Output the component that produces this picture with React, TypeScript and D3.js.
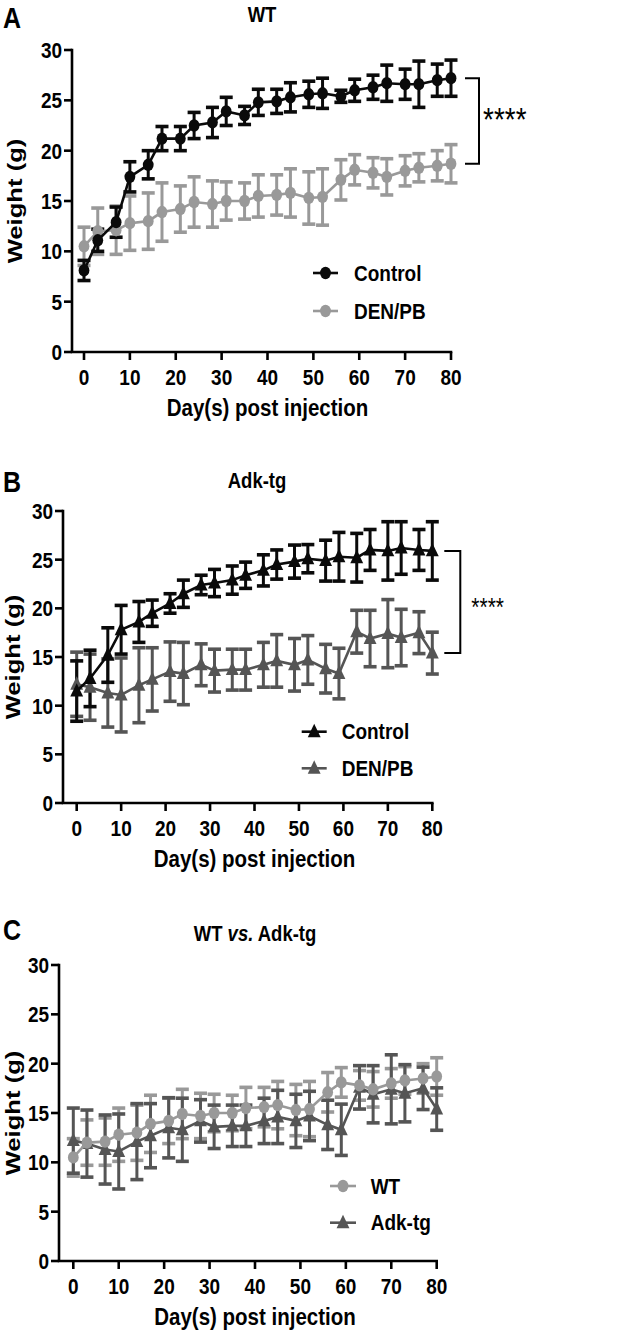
import React from 'react';
import * as d3 from 'd3';

// sampling days (same for every group)
const DAYS = [0, 3, 7, 10, 14, 17, 21, 24, 28, 31, 35, 38, 42, 45, 49, 52, 56, 59, 63, 66, 70, 73, 77, 80];

// WT mice
const WT_CTRL_MEAN = [8.1, 11.1, 12.9, 17.4, 18.6, 21.2, 21.2, 22.5, 22.8, 23.9, 23.5, 24.8, 24.9, 25.3, 25.6, 25.7, 25.4, 26.0, 26.3, 26.7, 26.6, 26.6, 27.0, 27.2];
const WT_CTRL_SEM = [1.0, 1.1, 1.5, 1.5, 1.4, 1.2, 1.2, 1.3, 1.5, 1.4, 0.9, 1.3, 1.2, 1.45, 1.3, 1.5, 0.6, 1.1, 1.2, 1.8, 1.5, 2.3, 1.6, 1.8];
const WT_DEN_MEAN = [10.5, 12.0, 12.1, 12.8, 13.0, 13.9, 14.2, 14.9, 14.7, 15.0, 15.0, 15.5, 15.6, 15.8, 15.3, 15.4, 17.1, 18.1, 17.8, 17.4, 18.0, 18.3, 18.5, 18.7];
const WT_DEN_SEM = [1.9, 2.3, 2.4, 2.7, 2.8, 2.9, 2.3, 2.5, 2.3, 1.9, 1.8, 2.1, 2.0, 2.4, 2.6, 2.8, 2.0, 1.5, 1.5, 1.8, 1.5, 1.4, 1.5, 1.9];

// Adk-tg mice
const ADK_CTRL_MEAN = [11.5, 12.8, 15.2, 17.8, 18.6, 19.5, 20.5, 21.5, 22.4, 22.6, 22.9, 23.4, 23.9, 24.5, 24.8, 25.1, 24.9, 25.3, 25.2, 26.0, 25.9, 26.2, 26.0, 25.9];
const ADK_CTRL_SEM = [3.1, 2.9, 2.8, 2.5, 2.1, 1.35, 1.0, 1.4, 1.0, 1.4, 1.45, 1.35, 1.6, 1.5, 1.7, 1.45, 2.1, 2.5, 2.5, 2.1, 3.0, 2.7, 2.1, 3.0];
const ADK_DEN_MEAN = [12.2, 11.9, 11.3, 11.1, 12.1, 12.7, 13.5, 13.3, 14.2, 13.6, 13.7, 13.7, 14.2, 14.6, 14.2, 14.7, 13.8, 13.3, 17.6, 16.9, 17.4, 17.0, 17.5, 15.4];
const ADK_DEN_SEM = [3.3, 3.4, 3.5, 3.8, 3.85, 3.25, 3.05, 3.2, 2.15, 2.2, 2.1, 2.1, 2.3, 2.7, 2.7, 2.5, 2.5, 2.6, 2.2, 2.9, 3.5, 2.9, 2.15, 2.15];

const Y_TICKS = [0, 5, 10, 15, 20, 25, 30];
const X_TICKS = [0, 10, 20, 30, 40, 50, 60, 70, 80];

const FONT = '"Liberation Sans", Arial, Helvetica, sans-serif';
const SY = 1.2; // the figure is a bit stretched vertically

type Shape = 'circle' | 'triangle';
type Series = { name: string; mean: number[]; sem: number[]; color: string; shape: Shape };

const BLACK = '#0a0a0a';
const LIGHT = '#999999';
const DARK = '#555555';

const wtCtrl: Series = { name: 'Control', mean: WT_CTRL_MEAN, sem: WT_CTRL_SEM, color: BLACK, shape: 'circle' };
const wtDen: Series = { name: 'DEN/PB', mean: WT_DEN_MEAN, sem: WT_DEN_SEM, color: LIGHT, shape: 'circle' };
const adkCtrl: Series = { name: 'Control', mean: ADK_CTRL_MEAN, sem: ADK_CTRL_SEM, color: BLACK, shape: 'triangle' };
const adkDen: Series = { name: 'DEN/PB', mean: ADK_DEN_MEAN, sem: ADK_DEN_SEM, color: DARK, shape: 'triangle' };

type PanelCfg = {
  letter: string;
  letterY: number;
  title: React.ReactNode;
  titleX: number;
  titleY: number;
  x0: number;
  x1: number;
  yTop: number;
  yBottom: number;
  axisX: number;
  yTitleX: number;
  errOrder: Series[];
  lineOrder: Series[];
  legend: { x1: number; x2: number; tx: number; ys: number[]; items: Series[] };
  bracket?: { a: Series; b: Series; h0: number; h1: number; sx: number; size: number; dy: number };
};

const triPath = d3.symbol().type(d3.symbolTriangle).size(72)() as string;

const Marker = ({ x, y, s }: { x: number; y: number; s: Series }) =>
  s.shape === 'circle' ? (
    <ellipse cx={x} cy={y} rx={5.4} ry={6.2} fill={s.color} />
  ) : (
    <path d={triPath} transform={`translate(${x},${y + 1}) scale(1,${SY})`} fill={s.color} />
  );

const Txt = ({ x, y, size, anchor = 'middle', weight = 'bold', children }: any) => (
  <text
    transform={`translate(${x},${y}) scale(1,${SY})`}
    fontSize={size}
    fontWeight={weight}
    textAnchor={anchor}
    fontFamily={FONT}
    fill="#000"
  >
    {children}
  </text>
);

const Panel = ({ cfg }: { cfg: PanelCfg }) => {
  const x = d3.scaleLinear().domain([0, 80]).range([cfg.x0, cfg.x1]);
  const y = d3.scaleLinear().domain([0, 30]).range([cfg.yBottom, cfg.yTop]);
  const line = d3
    .line<number>()
    .x((_, i) => x(DAYS[i]))
    .y((d) => y(d));

  const errBars = (s: Series, key: string) => (
    <g key={key} stroke={s.color} strokeWidth={3}>
      {s.mean.map((m, i) => {
        const cx = x(DAYS[i]);
        const lo = y(m - s.sem[i]);
        const hi = y(m + s.sem[i]);
        return (
          <g key={i}>
            <line x1={cx} x2={cx} y1={lo} y2={hi} />
            <line x1={cx - 6.5} x2={cx + 6.5} y1={hi} y2={hi} strokeWidth={3.6} />
            <line x1={cx - 6.5} x2={cx + 6.5} y1={lo} y2={lo} strokeWidth={3.6} />
          </g>
        );
      })}
    </g>
  );

  const lineAndMarks = (s: Series, key: string) => (
    <g key={key}>
      <path d={line(s.mean) as string} fill="none" stroke={s.color} strokeWidth={2.6} />
      {s.mean.map((m, i) => (
        <Marker key={i} x={x(DAYS[i])} y={y(m)} s={s} />
      ))}
    </g>
  );

  const br = cfg.bracket;
  const last = DAYS.length - 1;

  return (
    <g>
      <Txt x={3} y={cfg.letterY} size={25} anchor="start">
        {cfg.letter}
      </Txt>
      <Txt x={cfg.titleX} y={cfg.titleY} size={18.5}>
        {cfg.title}
      </Txt>

      {/* axes */}
      <g stroke="#000" strokeWidth={2.6} fill="none">
        <line x1={cfg.axisX} x2={cfg.axisX} y1={y(30) - 1.3} y2={y(0)} />
        <line x1={cfg.axisX - 1.3} x2={x(80) + 1.3} y1={y(0)} y2={y(0)} />
        {Y_TICKS.map((t) => (
          <line key={t} x1={cfg.axisX - 8} x2={cfg.axisX} y1={y(t)} y2={y(t)} />
        ))}
        {X_TICKS.map((t) => (
          <line key={t} x1={x(t)} x2={x(t)} y1={y(0)} y2={y(0) + 8} />
        ))}
      </g>
      {Y_TICKS.map((t) => (
        <Txt key={t} x={cfg.axisX - 10} y={y(t) + 8} size={19} anchor="end">
          {t}
        </Txt>
      ))}
      {X_TICKS.map((t) => (
        <Txt key={t} x={x(t)} y={y(0) + 33} size={19}>
          {t}
        </Txt>
      ))}
      <Txt x={(x(0) + x(80)) / 2} y={y(0) + 64} size={20.5}>
        Day(s) post injection
      </Txt>
      <text
        transform={`translate(${cfg.yTitleX},${(y(0) + y(30)) / 2}) rotate(-90) scale(${SY + 0.05},1)`}
        fontSize={20.5}
        fontWeight="bold"
        textAnchor="middle"
        fontFamily={FONT}
      >
        Weight (g)
      </text>

      {/* data */}
      {cfg.errOrder.map((s, k) => errBars(s, 'e' + k))}
      {cfg.lineOrder.map((s, k) => lineAndMarks(s, 'l' + k))}

      {/* legend */}
      {cfg.legend.items.map((s, k) => {
        const ly = cfg.legend.ys[k];
        return (
          <g key={k}>
            <line x1={cfg.legend.x1} x2={cfg.legend.x2} y1={ly} y2={ly} stroke={s.color} strokeWidth={2.6} />
            <Marker x={(cfg.legend.x1 + cfg.legend.x2) / 2} y={ly} s={s} />
            <Txt x={cfg.legend.tx} y={ly + 7.5} size={19} anchor="start">
              {s.name}
            </Txt>
          </g>
        );
      })}

      {/* significance bracket */}
      {br && (
        <g>
          <path
            d={`M${x(80) + br.h0},${y(br.a.mean[last])}H${x(80) + br.h1}V${y(br.b.mean[last])}H${x(80) + br.h0}`}
            fill="none"
            stroke="#000"
            strokeWidth={2}
          />
          <Txt
            x={x(80) + br.sx}
            y={(y(br.a.mean[last]) + y(br.b.mean[last])) / 2 + br.dy}
            size={br.size}
            anchor="start"
            weight="normal"
          >
            ****
          </Txt>
        </g>
      )}
    </g>
  );
};

const panels: PanelCfg[] = [
  {
    letter: 'A',
    letterY: 28,
    title: 'WT',
    titleX: 262,
    titleY: 22,
    x0: 84,
    x1: 451,
    yTop: 50,
    yBottom: 352,
    axisX: 72,
    yTitleX: 22,
    errOrder: [wtDen, wtCtrl],
    lineOrder: [wtDen, wtCtrl],
    legend: { x1: 313, x2: 338, tx: 354, ys: [273, 311], items: [wtCtrl, wtDen] },
    bracket: { a: wtCtrl, b: wtDen, h0: 14, h1: 28, sx: 32, size: 28, dy: 10 },
  },
  {
    letter: 'B',
    letterY: 492,
    title: 'Adk-tg',
    titleX: 257,
    titleY: 488,
    x0: 76.7,
    x1: 432.3,
    yTop: 511,
    yBottom: 803,
    axisX: 63,
    yTitleX: 20,
    errOrder: [adkDen, adkCtrl],
    lineOrder: [adkDen, adkCtrl],
    legend: { x1: 301.7, x2: 326.7, tx: 341.7, ys: [731.7, 768.3], items: [adkCtrl, adkDen] },
    bracket: { a: adkCtrl, b: adkDen, h0: 12, h1: 28, sx: 39, size: 21, dy: 14 },
  },
  {
    letter: 'C',
    letterY: 940,
    title: (
      <>
        WT <tspan fontStyle="italic">vs.</tspan> Adk-tg
      </>
    ),
    titleX: 255,
    titleY: 941,
    x0: 73.3,
    x1: 436.7,
    yTop: 965,
    yBottom: 1261,
    axisX: 59,
    yTitleX: 20,
    errOrder: [
      { ...wtDen, name: 'WT' },
      { ...adkDen, name: 'Adk-tg' },
    ],
    lineOrder: [
      { ...adkDen, name: 'Adk-tg' },
      { ...wtDen, name: 'WT' },
    ],
    legend: {
      x1: 330,
      x2: 356,
      tx: 370.7,
      ys: [1186, 1222.7],
      items: [
        { ...wtDen, name: 'WT' },
        { ...adkDen, name: 'Adk-tg' },
      ],
    },
  },
];

export default function App() {
  return (
    <svg
      width={620}
      height={1333}
      viewBox="0 0 620 1333"
      style={{ position: 'absolute', left: 0, top: 0, background: '#fff' }}
    >
      <rect width={620} height={1333} fill="#fff" />
      {panels.map((p) => (
        <Panel key={p.letter} cfg={p} />
      ))}
    </svg>
  );
}
